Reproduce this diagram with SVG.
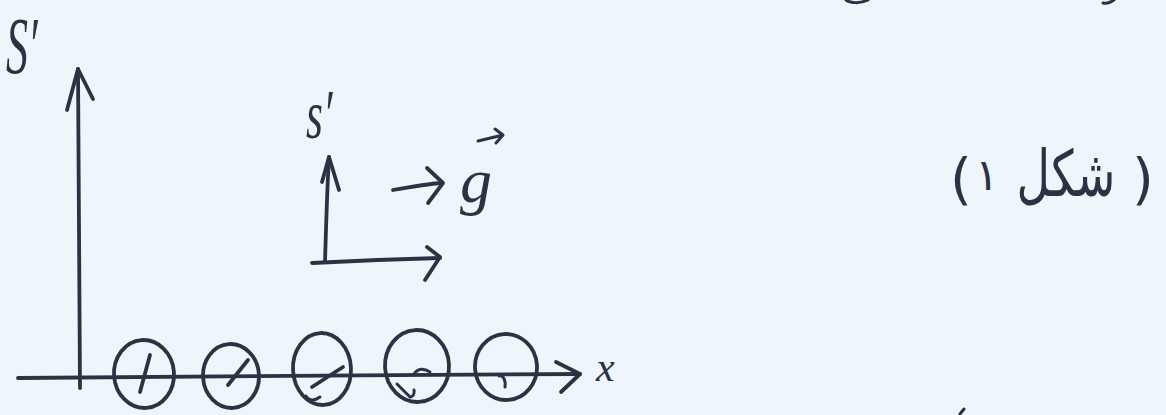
<svg xmlns="http://www.w3.org/2000/svg" width="1166" height="415" viewBox="0 0 1166 415">
<style>
.ink{fill:none;stroke:#2b3244;stroke-width:3.8;stroke-linecap:round;stroke-linejoin:round}
.thin{fill:none;stroke:#2b3244;stroke-width:3;stroke-linecap:round;stroke-linejoin:round}
.lbl{fill:#2b3244;font-family:"Liberation Serif","DejaVu Serif",serif;font-style:italic}
.ar{fill:#2b3244;font-family:"DejaVu Sans","Noto Sans",sans-serif}
</style>
<rect width="1166" height="415" fill="#eef5fb"/>
<g id="connectors">
  <g id="s-axis">
    <path class="ink" d="M78,69 C79,150 80,260 80,388"/>
    <path class="ink" d="M67,110 L78,69 L93,99"/>
  </g>
  <g id="x-axis">
    <path class="ink" d="M18,378 C150,377 400,375 580,374"/>
    <path class="ink" d="M556,362 L580,374 L561,392"/>
  </g>
  <g id="frame-vertical">
    <path class="ink" d="M325,262 C326,230 327,190 329,157"/>
    <path class="ink" d="M322,182 L329,157 L339,190"/>
  </g>
  <g id="frame-horizontal">
    <path class="ink" d="M312,263 C350,261 400,259 440,258"/>
    <path class="ink" d="M427,247 L440,257 L425,280"/>
  </g>
  <g id="g-arrow">
    <path class="ink" d="M393,190 C410,187 428,184 442,183"/>
    <path class="ink" d="M427,168 L443,183 L428,203"/>
  </g>
</g>
<g id="label-S">
  <text class="lbl" x="0" y="0" font-size="80" transform="translate(6,73) scale(0.55,1)">S′</text>
</g>
<g id="label-s">
  <text class="lbl" x="0" y="0" font-size="70" transform="translate(306,138) scale(0.62,1)">s′</text>
</g>
<g id="label-g">
  <text class="lbl" x="460" y="202" font-size="64">g</text>
  <path class="thin" d="M478,141 L503,135 M495,129 L503,135 L496,143"/>
</g>
<g id="label-x">
  <text class="lbl" x="596" y="381" font-size="42">x</text>
</g>
<g id="circle-1">
  <ellipse class="ink" cx="144" cy="374" rx="30" ry="34" transform="rotate(-4 144 374)"/>
  <path class="ink" d="M150,355 L140,392"/>
</g>
<g id="circle-2">
  <ellipse class="ink" cx="231" cy="376" rx="28" ry="32" transform="rotate(-4 231 376)"/>
  <path class="ink" d="M248,360 L228,385"/>
</g>
<g id="circle-3">
  <ellipse class="ink" cx="322" cy="369" rx="29" ry="36" transform="rotate(-3 322 369)"/>
  <path class="ink" d="M343,367 L312,387"/>
  <path class="thin" d="M306,396 C310,402 316,400 320,397"/>
</g>
<g id="circle-4">
  <ellipse class="ink" cx="417" cy="366" rx="32" ry="36" transform="rotate(-3 417 366)"/>
  <path class="thin" d="M414,374 C418,368 424,368 430,372"/>
  <path class="thin" d="M397,384 L410,397 C413,397 415,393 414,390"/>
</g>
<g id="circle-5">
  <ellipse class="ink" cx="506" cy="367" rx="31" ry="33" transform="rotate(-4 506 367)"/>
  <path class="thin" d="M499,376 C503,375 506,380 505,387"/>
</g>
<g id="caption">
  <text class="ar" x="950" y="198" font-size="56">(</text>
  <text class="ar" x="975" y="190" font-size="44">۱</text>
  <text class="ar" x="0" y="0" font-size="64" text-anchor="middle" transform="translate(1066,196) scale(0.72,1)">شکل</text>
  <text class="ar" x="1132" y="198" font-size="56">)</text>
</g>
<g id="edge-fragments">
  <path class="thin" d="M846,0 C850,3 860,4 868,0"/>
  <path class="thin" d="M1103,3 C1107,4 1111,2 1114,0"/>
  <path class="thin" d="M960,414 L964,409"/>
</g>
</svg>
